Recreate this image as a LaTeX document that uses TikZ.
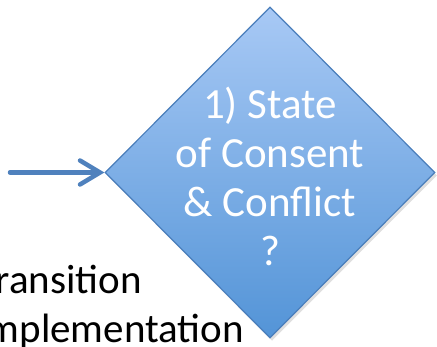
\documentclass[tikz,border=0pt]{standalone}
\usepackage{fontspec}
\setmainfont{Carlito}
\usetikzlibrary{shapes.geometric, arrows.meta, shadows}
\definecolor{accent}{RGB}{79,129,189}
\definecolor{gatetop}{RGB}{168,201,245}
\definecolor{gatebot}{RGB}{83,148,215}
\definecolor{gateline}{RGB}{74,126,187}

\begin{document}
\begin{tikzpicture}[x=1pt, y=1pt,
        gate/.style = {diamond, aspect=1, minimum width=330pt, minimum height=331pt,
                       inner sep=0pt, draw=gateline, line width=1.2pt,
                       top color=gatetop, bottom color=gatebot,
                       drop shadow={opacity=0.25, shadow xshift=2pt, shadow yshift=-3pt}},
        gatetext/.style = {text=white, font=\fontsize{43}{49}\selectfont, align=center},
        flow/.style = {draw=accent, line width=4.5pt, line cap=round,
                       -{Straight Barb[length=20pt, width=24pt, line cap=round]}},
        lbl/.style = {font=\fontsize{41}{49}\selectfont, inner sep=0pt}]
        \useasboundingbox (0,0) rectangle (437,-347);
        \node[gate] (gate) at (270,-172.5) {};
        \node[gatetext, yshift=-4pt] (ask) at (gate.center) {1) State\\of Consent\\\& Conflict\\?};
        \node[lbl, anchor=base east] (trans) at (142,-294) {Transition};
        \node[lbl, anchor=base east] (impl) at (244,-343) {Implementation};
        \coordinate (src) at (10,-172.5);
        \draw[flow] (src) -- (gate.west);
    \end{tikzpicture}
\end{document}
